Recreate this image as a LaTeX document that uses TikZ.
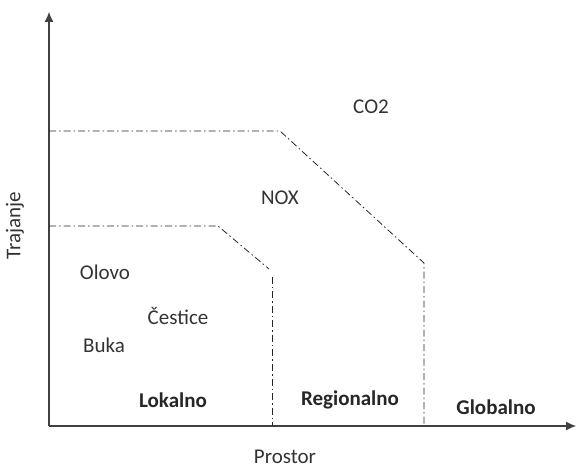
\documentclass[tikz,border=0pt]{standalone}
\usepackage{fontspec}
\setmainfont{Carlito}
\usetikzlibrary{arrows.meta,positioning}

\tikzset{
  granica/.style={draw=black!85, line width=0.8pt, dash pattern=on 7pt off 3pt on 1.5pt off 3pt},
  os/.style={-{Latex[length=10pt,width=9pt]}, draw=black!75, line width=1.1pt},
  oznaka/.style={text=black!80, font=\fontsize{21}{25}\selectfont},
  zona/.style={text=black!85, font=\fontsize{21}{25}\selectfont\bfseries}
}

\begin{document}
\begin{tikzpicture}[x=1pt, y=1pt]
        \useasboundingbox (0,0) rectangle (577,468);

        % osi
        \coordinate (o) at (49,42);
        \coordinate (ykraj) at (49,456);
        \coordinate (xkraj) at (576,42);
        \draw [os] (o) -- (ykraj);
        \draw [os] (o) -- (xkraj);

        % granice
        \coordinate (g1) at (49,337);
        \coordinate (g2) at (280,337);
        \coordinate (g3) at (424,205);
        \coordinate (g4) at (424,42);
        \draw [granica] (g1) -- (g2) -- (g3) -- (g4);

        \coordinate (l1) at (49,242);
        \coordinate (l2) at (218,242);
        \coordinate (l3) at (269,199);
        \coordinate (l4) at (272,191);
        \coordinate (l5) at (272,42);
        \draw [granica] (l1) -- (l2) -- (l3);
        \draw [granica] (l4) -- (l5);

        % oznake
        \node [oznaka] (co2) at (371,361) {CO2};
        \node [oznaka] (nox) at (280,270) {NOX};
        \node [oznaka] (olovo) at (105,196) {Olovo};
        \node [oznaka] (cestice) at (178,152) {Čestice};
        \node [oznaka] (buka) at (104,123) {Buka};

        \node [zona] (lokalno) at (173,68) {Lokalno};
        \node [zona] (regionalno) at (350,68) {Regionalno};
        \node [zona] (globalno) at (496,61) {Globalno};

        \node [oznaka] (prostor) at (285,11) {Prostor};
        \node [oznaka, rotate=90] (trajanje) at (15,242) {Trajanje};
    \end{tikzpicture}
\end{document}
